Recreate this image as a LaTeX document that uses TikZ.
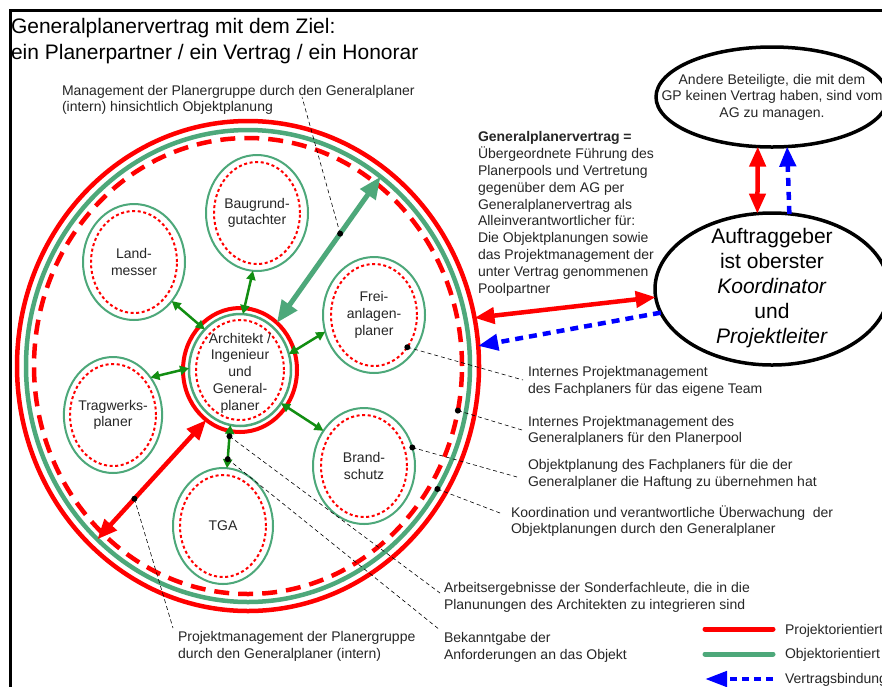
\documentclass[tikz,border=0pt]{standalone}
\usepackage{fontspec}
\setmainfont{Liberation Sans}
\usetikzlibrary{arrows.meta,shapes.geometric}

\definecolor{ringgreen}{RGB}{77,168,122}
\definecolor{arrowgreen}{RGB}{18,142,18}
\definecolor{inktext}{RGB}{38,38,38}
\definecolor{pureblue}{RGB}{0,0,255}

\tikzset{
  ring/.style={ellipse, inner sep=0pt, outer sep=0pt},
  projring/.style={ring, draw=red, line width=4.5pt},
  objring/.style={ring, draw=ringgreen, line width=4.5pt},
  dashring/.style={ring, draw=red, line width=4.5pt, dash pattern=on 15pt off 9pt},
  member/.style={ring, draw=ringgreen, line width=2pt, minimum width=102pt, minimum height=116pt,
    align=center, font=\fontsize{14}{16.7}\selectfont, text=inktext},
  memberdots/.style={ring, draw=red, line width=2pt, dash pattern=on 3pt off 2.6pt,
    minimum width=86pt, minimum height=102pt},
  party/.style={ring, draw=black, line width=3.5pt},
  linkarrow/.style={draw=arrowgreen, line width=2.5pt,
    {Triangle[length=9pt,width=9pt]}-{Triangle[length=9pt,width=9pt]}},
  objarrow/.style={draw=ringgreen, line width=5pt,
    {Triangle[length=22pt,width=18pt]}-{Triangle[length=22pt,width=18pt]}},
  projarrow/.style={draw=red, line width=4.5pt,
    {Triangle[length=20pt,width=16pt]}-{Triangle[length=20pt,width=16pt]}},
  contractarrow/.style={draw=pureblue, line width=4.5pt, dash pattern=on 8pt off 6pt,
    -{Triangle[length=20pt,width=16pt]}},
  leader/.style={draw=black, line width=0.6pt, dash pattern=on 4pt off 3pt},
  pin/.style={circle, fill=black, inner sep=0pt, outer sep=0pt, minimum size=6pt},
  % multi-line texts are placed by the baseline of their last line
  note/.style={font=\fontsize{14}{16.7}\selectfont, align=left, anchor=base west,
    text=inktext, inner sep=0pt, outer sep=0pt},
  centered/.style={align=center, anchor=base, inner sep=0pt, outer sep=0pt, text=inktext},
}

\begin{document}
\begin{tikzpicture}[x=1pt,y=-1pt]
\useasboundingbox (0,0) rectangle (882,686);
\clip (0,0) rectangle (882,686);
\fill[white] (0,0) rectangle (882,686);

% frame
\draw[line width=2.5pt] (10.5,690) -- (10.5,10.5) -- (890,10.5);

% title
\node[note, font=\fontsize{21}{26.7}\selectfont, text=black] (title) at (11,59.7)
  {Generalplanervertrag mit dem Ziel:\\ein Planerpartner / ein Vertrag / ein Honorar};

% planner pool: project ring, object ring, internal management ring
\node[projring, minimum width=462pt, minimum height=490pt] (outr) at (248,366) {};
\node[objring, minimum width=444pt, minimum height=472pt] (outg) at (248,366) {};
\node[dashring, minimum width=428pt, minimum height=456pt] (outd) at (248,366) {};

% general planner in the middle
\node[projring, line width=4pt, minimum width=114pt, minimum height=124pt] (archr) at (240,370) {};
\node[ring, draw=ringgreen, line width=2.5pt, minimum width=102pt, minimum height=112pt] (arch) at (240,370) {};
\node[memberdots, minimum width=88pt, minimum height=100pt] (archd) at (240,370) {};
\node[centered, font=\fontsize{14}{16.7}\selectfont] (archt) at (240,410)
  {Architekt /\\Ingenieur\\und\\General-\\planer};

% specialist planners
\node[memberdots] (landd) at (134,262) {};
\node[member] (land) at (134,262) {Land-\\messer};
\node[memberdots] (baugd) at (257,213) {};
\node[member] (baug) at (257,213) {Baugrund-\\gutachter};
\node[memberdots] (freid) at (374,315) {};
\node[member] (frei) at (374,315) {Frei-\\anlagen-\\planer};
\node[memberdots] (tragd) at (113,415) {};
\node[member, minimum width=98pt] (trag) at (113,415) {Tragwerks-\\planer};
\node[memberdots] (brandd) at (364,466) {};
\node[member] (brand) at (364,466) {Brand-\\schutz};
\node[memberdots] (tgad) at (223,526) {};
\node[member, minimum width=100pt] (tga) at (223,526) {TGA};

% client and other parties
\node[party, minimum width=232pt, minimum height=100pt] (other) at (772,97) {};
\node[centered, font=\fontsize{14}{16.7}\selectfont] (othert) at (772,117.4)
  {Andere Beteiligte, die mit dem\\GP keinen Vertrag haben, sind vom\\AG zu managen.};
\node[party, minimum width=234pt, minimum height=152pt] (client) at (772,289) {};
\node[centered, font=\fontsize{21}{25.2}\selectfont, text=black] (clientt) at (772,343.8)
  {Auftraggeber\\ist oberster\\\textit{Koordinator}\\und\\\textit{Projektleiter}};

% contract text
\node[note, font=\fontsize{14}{16.85}\selectfont] (gpv) at (478,293.3)
  {\textbf{Generalplanervertrag =}\\Übergeordnete Führung des\\Planerpools und Vertretung\\
   gegenüber dem AG per\\Generalplanervertrag als\\Alleinverantwortlicher für:\\
   Die Objektplanungen sowie\\das Projektmanagement der\\unter Vertrag genommenen\\Poolpartner};

% exchange between general planner and specialists
\draw[linkarrow] (land.-46) -- (arch.131);
\draw[linkarrow] (baug.-94) -- (arch.87);
\draw[linkarrow] (frei.199) -- (arch.18);
\draw[linkarrow] (trag.45) -- (arch.178);
\draw[linkarrow] (brand.139) -- (arch.-39);
\draw[linkarrow] (tga.86) -- (arch.-100) coordinate[pos=0.74] (d6) coordinate[pos=0.21] (d7);

% management of the pool
\draw[objarrow] (archr.52) -- (outg.55) coordinate[pos=0.61] (d1);
\draw[projarrow] (archr.-124) -- (outg.-131) coordinate[pos=0.66] (d8);

% client relations
\draw[projarrow] (outr.12) -- (client.184);
\draw[contractarrow] (client.192.5) -- (outr.5);
\draw[projarrow] (other.-106.4) -- (client.101);
\draw[contractarrow] (client.77.8) -- (other.-73.2);

% annotations
\coordinate (d2) at (freid.-44);
\coordinate (d3) at (outd.-12);
\coordinate (d4) at (brand.21);
\coordinate (d5) at (outg.-33.5);

\coordinate (e1) at (302,97);
\coordinate (e2) at (523,380);
\coordinate (e3) at (522,430);
\coordinate (e4) at (517,477);
\coordinate (e5) at (500,513);
\coordinate (e6) at (440,593);
\coordinate (e7) at (440,630);
\coordinate (e8) at (173,628);

\foreach \k in {1,...,8} {
  \draw[leader] (d\k) -- (e\k);
  \node[pin] (pin\k) at (d\k) {};
}

\node[note] (n1) at (62,111.7) {Management der Planergruppe durch den Generalplaner\\(intern) hinsichtlich Objektplanung};
\node[note] (n2) at (528,393.3) {Internes Projektmanagement\\des Fachplaners für das eigene Team};
\node[note] (n3) at (528,442.7) {Internes Projektmanagement des\\Generalplaners für den Planerpool};
\node[note] (n4) at (528,486) {Objektplanung des Fachplaners für die der\\Generalplaner die Haftung zu übernehmen hat};
\node[note] (n5) at (511,533.7) {Koordination und verantwortliche Überwachung~ der\\Objektplanungen durch den Generalplaner};
\node[note] (n6) at (444,609) {Arbeitsergebnisse der Sonderfachleute, die in die\\Planunungen des Architekten zu integrieren sind};
\node[note] (n7) at (444,659) {Bekanntgabe der\\Anforderungen an das Objekt};
\node[note] (n8) at (178,658) {Projektmanagement der Planergruppe\\durch den Generalplaner (intern)};

% legend
\coordinate (la1) at (705,629); \coordinate (lb1) at (773,629);
\coordinate (la2) at (705,654); \coordinate (lb2) at (773,654);
\coordinate (la3) at (773,679); \coordinate (lb3) at (705,679);
\draw[red, line width=5pt, line cap=round] (la1) -- (lb1);
\draw[ringgreen, line width=5pt, line cap=round] (la2) -- (lb2);
\draw[contractarrow, dash pattern=on 7pt off 5pt, -{Triangle[length=22pt,width=15pt]}] (la3) -- (lb3);
\node[note] (leg1) at (785,634) {Projektorientiert};
\node[note] (leg2) at (785,658) {Objektorientiert};
\node[note] (leg3) at (785,683) {Vertragsbindung};
\end{tikzpicture}
\end{document}
